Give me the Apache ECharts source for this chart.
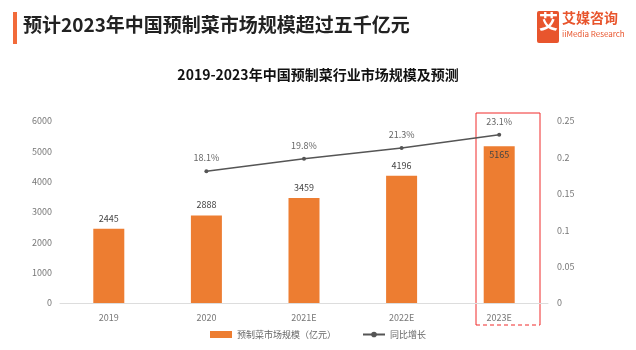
<!DOCTYPE html>
<html>
<head>
<meta charset="utf-8">
<script src="https://cdn.jsdelivr.net/npm/echarts@6/dist/echarts.min.js"></script>
<style>
  html, body { margin: 0; padding: 0; background: #fff; }
  #main { width: 636px; height: 350px; }
</style>
</head>
<body>
<div id="main"></div>
<script>
var years = ["2019", "2020", "2021E", "2022E", "2023E"];
var scale = [2445, 2888, 3459, 4196, 5165];
var growth = [null, 0.181, 0.198, 0.213, 0.231];
var leftTicks = [0, 1000, 2000, 3000, 4000, 5000, 6000];
var rightTicks = [0, 0.05, 0.1, 0.15, 0.2, 0.25];

var chart = echarts.init(document.getElementById("main"));
var font = "'Noto Sans CJK SC', 'Noto Sans', sans-serif";

var option = {
  backgroundColor: "#fff",
  textStyle: { fontFamily: font },
  title: {
    text: "2019-2023年中国预制菜行业市场规模及预测",
    left: "center",
    top: 63,
    textStyle: { fontSize: 14, fontWeight: "bold", color: "#111", fontFamily: font }
  },
  graphic: [
    { type: "rect", shape: { x: 13, y: 12, width: 4, height: 32 }, style: { fill: "#F26B3A" } },
    {
      type: "text", left: 23, top: 15,
      style: { text: "预计2023年中国预制菜市场规模超过五千亿元", fontSize: 19, fontWeight: "bold", fill: "#222", fontFamily: font }
    },
    { type: "rect", shape: { x: 537, y: 11, width: 22, height: 32, r: 2 }, style: { fill: "#E8552D" } },
    {
      type: "text", left: 539, top: 12,
      style: { text: "艾", fontSize: 19, fontWeight: "bold", fill: "#fff", fontFamily: font }
    },
    {
      type: "text", left: 562, top: 11,
      style: { text: "艾媒咨询", fontSize: 14, fontWeight: "bold", fill: "#E8552D", fontFamily: font }
    },
    {
      type: "text", left: 562, top: 30,
      style: { text: "iiMedia Research", fontSize: 8, fill: "#E8552D", fontFamily: font }
    },
    {
      type: "polyline", shape: { points: [[476, 325], [476, 113], [540, 113], [540, 325]] },
      style: { fill: "none", stroke: "#F02B2B", lineWidth: 1 }
    },
    {
      type: "line", shape: { x1: 476, y1: 325, x2: 540, y2: 325 },
      style: { stroke: "#F02B2B", lineWidth: 1, lineDash: [4, 3] }
    }
  ],
  legend: {
    bottom: 6,
    left: "center",
    itemWidth: 22,
    itemHeight: 7,
    itemGap: 26,
    textStyle: { fontSize: 9, color: "#666", fontFamily: font },
    data: [
      { name: "预制菜市场规模（亿元）", icon: "rect" },
      { name: "同比增长" }
    ]
  },
  grid: { left: 60, right: 88, top: 121, bottom: 47 },
  xAxis: {
    type: "category",
    data: years,
    axisTick: { show: false },
    axisLine: { lineStyle: { color: "#ddd" } },
    axisLabel: { color: "#777", fontSize: 9, margin: 10 }
  },
  yAxis: [
    {
      type: "value", min: leftTicks[0], max: leftTicks[leftTicks.length - 1], interval: 1000,
      splitLine: { show: false },
      axisLine: { show: false },
      axisTick: { show: false },
      axisLabel: { color: "#777", fontSize: 9, margin: 8, formatter: function (v) { return String(v); } }
    },
    {
      type: "value", min: rightTicks[0], max: rightTicks[rightTicks.length - 1], interval: 0.05,
      splitLine: { show: false },
      axisLine: { show: false },
      axisTick: { show: false },
      axisLabel: { color: "#777", fontSize: 9, margin: 9, formatter: function (v) { return String(+v.toFixed(2)); } }
    }
  ],
  series: [
    {
      name: "预制菜市场规模（亿元）",
      type: "bar",
      barWidth: 31,
      data: scale.map(function (v, i) {
        var item = { value: v };
        if (i === scale.length - 1) {
          item.label = { position: "insideTop", color: "#444", distance: 4 };
        }
        return item;
      }),
      itemStyle: { color: "#ED7D31" },
      label: { show: true, position: "top", color: "#444", fontSize: 9, distance: 6 }
    },
    {
      name: "同比增长",
      type: "line",
      yAxisIndex: 1,
      data: growth,
      symbol: "circle",
      symbolSize: 4,
      itemStyle: { color: "#555" },
      lineStyle: { color: "#555", width: 1.5 },
      label: {
        show: true, position: "top", color: "#666", fontSize: 9, distance: 7,
        formatter: function (p) { return (p.value * 100).toFixed(1) + "%"; }
      }
    }
  ]
};
chart.setOption(option);
</script>
</body>
</html>
